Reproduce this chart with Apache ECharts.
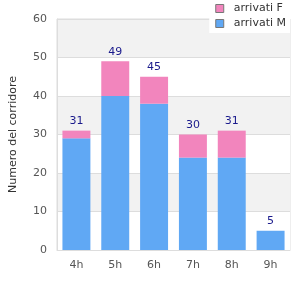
<!DOCTYPE html>
<html>
<head>
<meta charset="utf-8">
<script src="https://cdn.jsdelivr.net/npm/echarts@6/dist/echarts.min.js"></script>
<style>
  html, body { margin: 0; padding: 0; background: #fff; }
  #chart { width: 300px; height: 300px; }
</style>
</head>
<body>
<div id="chart"></div>
<script>
// dati
const categorie = ['4h', '5h', '6h', '7h', '8h', '9h']
const arrivatiM = [29, 40, 38, 24, 24, 5]
const arrivatiF = [2, 9, 7, 6, 7, 0]
const totali = [31, 49, 45, 30, 31, 5]

const chart = echarts.init(document.getElementById('chart'))
const bordoLegenda = { borderColor: '#777', borderWidth: 1 }
const option = {
  animation: false,
  textStyle: { fontFamily: 'DejaVu Sans' },
  legend: {
    orient: 'vertical',
    right: 10,
    top: 0,
    padding: [2, 4, 3, 6],
    itemGap: 2,
    backgroundColor: '#fff',
    itemWidth: 8,
    itemHeight: 8,
    icon: 'rect',
    textStyle: { fontSize: 11, color: '#333', padding: [0, 0, 0, 5], lineHeight: 13 },
    data: [
      { name: 'arrivati F', itemStyle: bordoLegenda },
      { name: 'arrivati M', itemStyle: bordoLegenda }
    ]
  },
  grid: {
    left: 50,
    right: 10,
    top: 19,
    bottom: 50,
    show: true,
    borderColor: '#ddd',
    borderWidth: 1
  },
  xAxis: {
    type: 'category',
    data: categorie,
    axisLine: { lineStyle: { color: '#ddd' } },
    axisTick: { show: false },
    axisLabel: { color: '#555', fontSize: 11, margin: 10 }
  },
  yAxis: {
    type: 'value',
    min: 0,
    max: 60,
    interval: 10,
    name: 'Numero del corridore',
    nameLocation: 'middle',
    nameGap: 38,
    nameTextStyle: { color: '#333', fontSize: 11 },
    axisLine: { show: true, lineStyle: { color: '#ddd' } },
    axisTick: { show: false },
    axisLabel: { color: '#555', fontSize: 11, margin: 10 },
    splitLine: { lineStyle: { color: '#ddd' } },
    splitArea: { show: true, areaStyle: { color: ['#fff', '#f2f2f2'] } }
  },
  series: [
    {
      name: 'arrivati M',
      type: 'bar',
      stack: 'tot',
      barWidth: '72%',
      data: arrivatiM,
      itemStyle: { color: '#60a8f4' }
    },
    {
      name: 'arrivati F',
      type: 'bar',
      stack: 'tot',
      data: arrivatiF,
      itemStyle: { color: '#f285bd' },
      label: {
        show: true,
        position: 'top',
        distance: 4,
        color: '#1a1a8c',
        fontSize: 11,
        formatter: p => totali[p.dataIndex]
      }
    }
  ]
}
chart.setOption(option)
</script>
</body>
</html>
